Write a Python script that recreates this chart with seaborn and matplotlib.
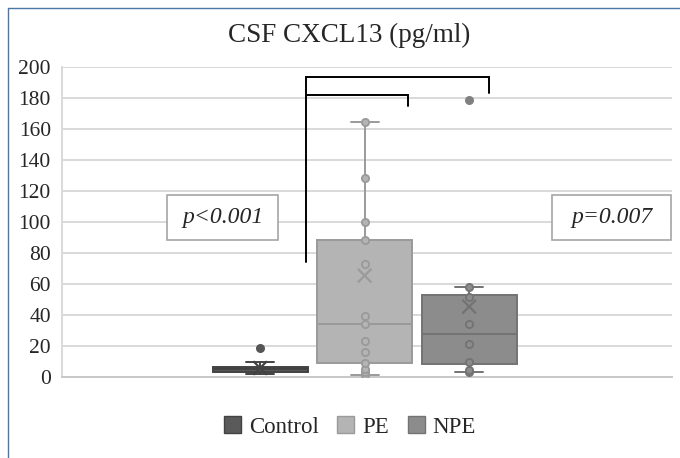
import matplotlib
matplotlib.use("Agg")
import matplotlib.pyplot as plt
import seaborn as sns
import pandas as pd
from matplotlib.patches import Patch, Rectangle
from matplotlib.lines import Line2D

# ---- data ----
groups = ["Control", "PE", "NPE"]
control_inner = [1.7, 2.8, 3.1, 3.8, 4.5, 5.2, 6.2, 6.8, 9.5]
control_out = [18.7]
pe_inner = [1.5, 3.4, 5.0, 8.8, 15.9, 23.2, 34.2, 39.3, 72.7, 88.4, 99.8, 128.6, 164.7]
pe_out = []
npe_inner = [3.4, 4.5, 9.9, 21.0, 34.4, 51.4, 58.0]
npe_out = [178.7]
means = [5.8, 65.4, 45.4]
yticks = [0, 20, 40, 60, 80, 100, 120, 140, 160, 180, 200]
title = "CSF CXCL13 (pg/ml)"
p_labels = ["p<0.001", "p=0.007"]

fill = {"Control": "#5a5a5a", "PE": "#b4b4b4", "NPE": "#8c8c8c"}
edge = {"Control": "#424242", "PE": "#9a9a9a", "NPE": "#737373"}
out_col = {"Control": "#555555", "PE": "#999999", "NPE": "#808080"}

inner = {"Control": control_inner, "PE": pe_inner, "NPE": npe_inner}
outl = {"Control": control_out, "PE": pe_out, "NPE": npe_out}

rows = []
for g in groups:
    for v in inner[g] + outl[g]:
        rows.append((g, v))
df = pd.DataFrame(rows, columns=["group", "value"])

sns.set_theme(style="white")
plt.rcParams["font.family"] = ["Liberation Serif", "DejaVu Serif"]

fig = plt.figure(figsize=(6.8, 4.58), dpi=100)
ax = fig.add_axes([62 / 680, 1 - 377 / 458, (672 - 62) / 680, (377 - 67) / 458])

for g in groups:
    sns.boxplot(data=df[df.group == g], x="group", y="value", order=groups,
                color=fill[g], linecolor=edge[g], saturation=1, width=0.91,
                linewidth=1.4, showfliers=False, whis=1.5, capwidths=0.27,
                ax=ax, zorder=2)

# inner points (PE, NPE)
for g in ["PE", "NPE"]:
    pts = pd.DataFrame({"group": g, "value": inner[g]})
    sns.stripplot(data=pts, x="group", y="value", order=groups, jitter=False,
                  color=fill[g], edgecolor=edge[g], linewidth=1.3, size=5.2,
                  ax=ax, zorder=4)

# outliers
for g in ["Control", "NPE"]:
    pts = pd.DataFrame({"group": g, "value": outl[g]})
    sns.stripplot(data=pts, x="group", y="value", order=groups, jitter=False,
                  color=out_col[g], linewidth=0, size=6.5, ax=ax, zorder=4)

# means
ax.scatter(range(len(groups)), means, marker="x", s=95,
           c=[edge[g] for g in groups], linewidths=1.6, zorder=5)

ax.set_xlim(-1.895, 3.94)
ax.set_ylim(0, 200)
ax.set_yticks(yticks)
ax.set_yticklabels([str(t) for t in yticks], fontsize=15.5)
ax.tick_params(axis="y", length=0, pad=8)
ax.set_xticks([])
ax.set_xlabel("")
ax.set_ylabel("")
ax.yaxis.grid(True, color="#d9d9d9", linewidth=1.4)
ax.set_axisbelow(True)
for s in ["top", "right"]:
    ax.spines[s].set_visible(False)
ax.spines["left"].set_color("#d9d9d9")
ax.spines["left"].set_linewidth(1.4)
ax.spines["bottom"].set_color("#c8c8c8")
ax.spines["bottom"].set_linewidth(1.4)
if ax.get_legend():
    ax.get_legend().remove()

# significance brackets
ax.plot([0.44, 0.44, 2.19, 2.19], [74, 193.5, 193.5, 183], color="black",
        lw=1.4, solid_joinstyle="miter", clip_on=False, zorder=6)
ax.plot([0.44, 1.416, 1.416], [182, 182, 175], color="black",
        lw=1.4, solid_joinstyle="miter", clip_on=False, zorder=6)

# p-value boxes
for (x0, x1), lab in zip([(-0.89, 0.172), (2.794, 3.93)], p_labels):
    ax.add_patch(Rectangle((x0, 88.4), x1 - x0, 29.0, facecolor="white",
                           edgecolor="#a6a6a6", lw=1.2, zorder=6))
    ax.text((x0 + x1) / 2, 102.9, lab, ha="center", va="center",
            fontsize=17, style="italic", zorder=7)

fig.text(349 / 680, 1 - 35 / 458, title, ha="center", va="center", fontsize=19.5)

handles = [Patch(facecolor=fill[g], edgecolor=edge[g], lw=1.0) for g in groups]
fig.legend(handles, groups, loc="center", bbox_to_anchor=(350 / 680, 1 - 427 / 458),
           ncol=3, frameon=False, fontsize=16.5, handlelength=0.75, handleheight=0.75,
           handletextpad=0.35, columnspacing=0.8)

# outer frame (blue) at left and top
fig.add_artist(Line2D([8 / 680, 8 / 680], [0, 1 - 8 / 458], color="#4a76a8", lw=1.0))
fig.add_artist(Line2D([8 / 680, 1], [1 - 8 / 458, 1 - 8 / 458], color="#4a76a8", lw=1.0))

fig.savefig("out.png", dpi=100)
